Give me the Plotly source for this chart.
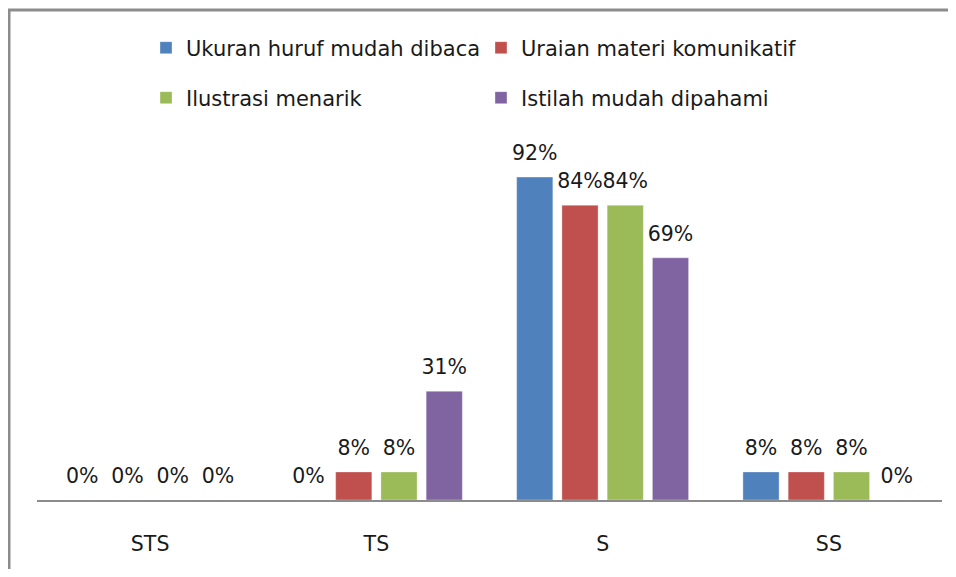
import plotly.graph_objects as go

categories = ["STS", "TS", "S", "SS"]
series_names = ["Ukuran huruf mudah dibaca", "Uraian materi komunikatif",
                "Ilustrasi menarik", "Istilah mudah dipahami"]
ukuran = [0, 0, 0.92, 0.08]
uraian = [0, 0.08, 0.84, 0.08]
ilustrasi = [0, 0.08, 0.84, 0.08]
istilah = [0, 0.31, 0.69, 0]
colors = ["#4F81BD", "#C0504D", "#9BBB59", "#8064A2"]
legends = ["legend", "legend", "legend2", "legend2"]

FONT = "DejaVu Sans"
FS = 20.5
LFS = 21
TXT = "#1A1A1A"
BORDER = "#8C8C8C"

fig = go.Figure()
for name, vals, col, lg in zip(series_names, [ukuran, uraian, ilustrasi, istilah], colors, legends):
    fig.add_trace(go.Bar(
        x=categories, y=vals, name=name, offsetgroup=name,
        marker=dict(color=col, line=dict(color="rgba(255,255,255,0.35)", width=1)),
        legend=lg, hoverinfo="skip",
    ))
for name, vals, lg in zip(series_names, [ukuran, uraian, ilustrasi, istilah], legends):
    fig.add_trace(go.Scatter(
        x=categories, y=vals, mode="markers+text", offsetgroup=name,
        text=[f"{round(v*100)}%" for v in vals], textposition="top center",
        textfont=dict(family=FONT, size=FS, color=TXT),
        marker=dict(size=17, opacity=0), showlegend=False, hoverinfo="skip",
        cliponaxis=False,
    ))

# the page body has an 8px margin, so the figure sits at (8, 8) in the window
OFF = 8
W, H = 956 - OFF, 577 - 2 * OFF
L, T = 37 - OFF, 149 - OFF
R = W - (942 - OFF)
B = H - (500 - OFF)
pw, ph = W - L - R, H - T - B

def px(xp):
    return (xp - OFF - L) / pw

def py(yp):
    return (H - B - (yp - OFF)) / ph

fig.update_layout(
    width=W, height=H,
    margin=dict(l=L, r=R, t=T, b=B),
    paper_bgcolor="white", plot_bgcolor="white",
    barmode="group", bargap=0.2, bargroupgap=0.2,
    scattermode="group", scattergap=0.2,
    font=dict(family=FONT, size=FS, color=TXT),
    xaxis=dict(showline=True, linecolor=BORDER, linewidth=2, showgrid=False,
               ticks="", ticklabelstandoff=24, tickfont=dict(family=FONT, size=FS, color=TXT),
               zeroline=False, fixedrange=True),
    yaxis=dict(range=[0, 1], visible=False, showgrid=False, fixedrange=True),
    legend=dict(orientation="h", x=px(146), y=py(48), xanchor="left", yanchor="middle",
                entrywidth=290, entrywidthmode="pixels", font=dict(family=FONT, size=LFS, color=TXT),
                bgcolor="rgba(0,0,0,0)", itemclick=False, itemdoubleclick=False),
    legend2=dict(orientation="h", x=px(146), y=py(98), xanchor="left", yanchor="middle",
                 entrywidth=290, entrywidthmode="pixels", font=dict(family=FONT, size=LFS, color=TXT),
                 bgcolor="rgba(0,0,0,0)", itemclick=False, itemdoubleclick=False),
    showlegend=True,
    hovermode=False,
    shapes=[
        dict(type="rect", xref="paper", yref="paper", x0=px(9), x1=px(1000), y0=py(10), y1=py(640),
             line=dict(color=BORDER, width=3), fillcolor="rgba(0,0,0,0)", layer="above"),
    ],
)

fig.write_html("out.html")
